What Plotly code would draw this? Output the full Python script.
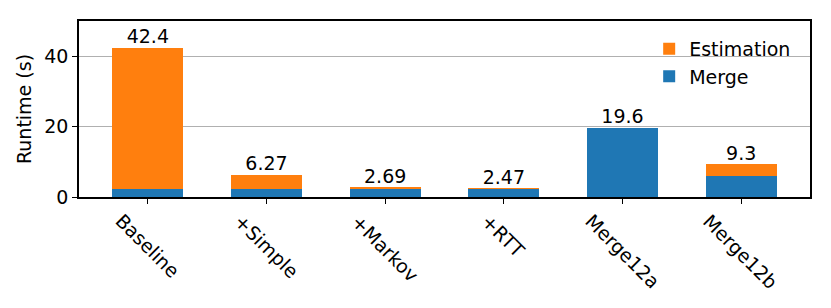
import plotly.graph_objects as go

categories = ["Baseline", "+Simple", "+Markov", "+RTT", "Merge12a", "Merge12b"]
merge = [2.4, 2.2, 2.3, 2.3, 19.6, 6.0]
estimation = [40.0, 4.07, 0.39, 0.17, 0.0, 3.3]
totals = [42.4, 6.27, 2.69, 2.47, 19.6, 9.3]
total_labels = ["42.4", "6.27", "2.69", "2.47", "19.6", "9.3"]
y_ticks = [0, 20, 40]

FONT = "DejaVu Sans"
FS = 19

fig = go.Figure()
fig.add_trace(go.Bar(x=categories, y=merge, name="Merge", marker=dict(color="#1f77b4", line=dict(width=0)), width=0.6))
fig.add_trace(go.Bar(x=categories, y=estimation, name="Estimation", marker=dict(color="#ff7f0e", line=dict(width=0)), width=0.6))
fig.add_trace(go.Scatter(x=categories, y=totals, mode="text", text=total_labels,
                         textposition="top center", showlegend=False,
                         textfont=dict(family=FONT, size=FS, color="black"), cliponaxis=False))

annotations = [
    dict(x=c, y=0, xref="x", yref="paper", text=c, showarrow=False, textangle=45,
         xanchor="center", yanchor="top", yshift=-10, font=dict(family=FONT, size=FS, color="black"))
    for c in categories
]

# page body has 8px default margin; compensate
fig.update_layout(
    barmode="stack",
    width=823, height=300,
    margin=dict(l=71, r=21, t=13, b=111),
    plot_bgcolor="white", paper_bgcolor="white",
    font=dict(family=FONT, size=FS, color="black"),
    legend=dict(x=0.78, y=0.95, xanchor="left", yanchor="top", traceorder="reversed",
                bgcolor="rgba(0,0,0,0)", font=dict(family=FONT, size=FS)),
    xaxis=dict(range=[-0.58, 5.58], showline=True, linecolor="black", linewidth=1.5, mirror=True,
               ticks="outside", ticklen=5, tickcolor="black", showticklabels=False, showgrid=False),
    yaxis=dict(range=[0, 50], tickvals=y_ticks, showline=True, linecolor="black", linewidth=1.5, mirror=True,
               ticks="outside", ticklen=5, tickcolor="black", showgrid=True, gridcolor="#b0b0b0", gridwidth=1,
               zeroline=False, title=dict(text="Runtime (s)", standoff=8, font=dict(size=FS))),
    annotations=annotations,
)

fig.write_html("out.html")
